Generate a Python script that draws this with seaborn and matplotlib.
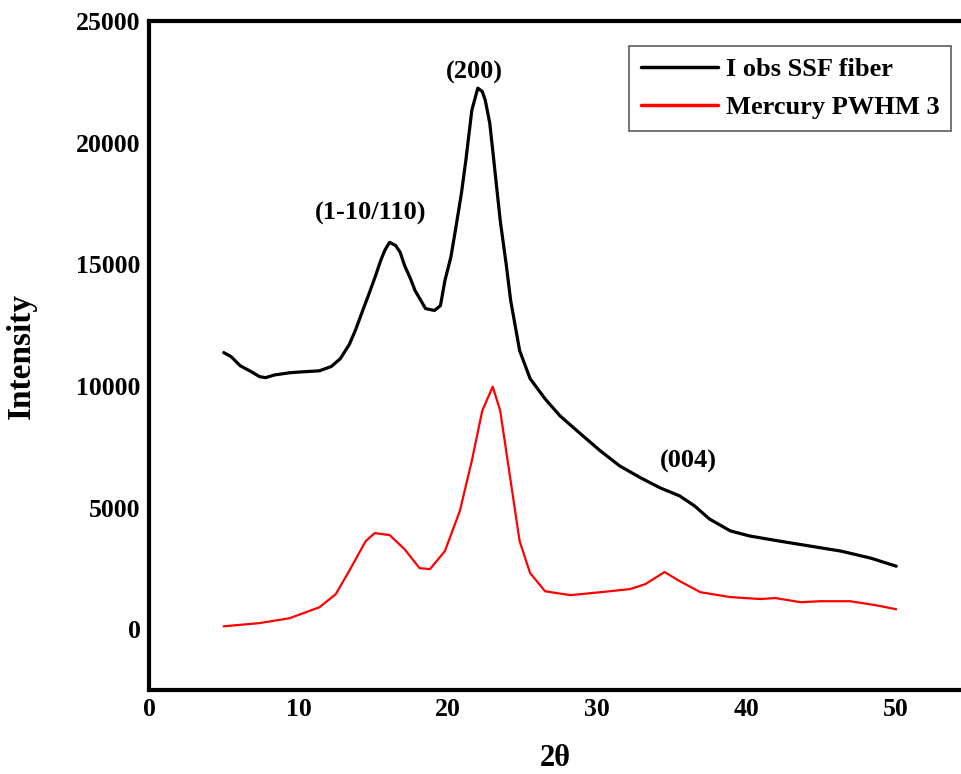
import pandas as pd
import matplotlib
matplotlib.use('Agg')
import matplotlib.pyplot as plt
import seaborn as sns

# values
obs_x = [5.0, 5.5, 6.1, 6.8, 7.4, 7.8, 8.4, 9.4, 10.3, 11.4, 12.2, 12.8, 13.4, 13.8, 14.3,
         14.8, 15.2, 15.5, 15.8, 16.1, 16.5, 16.8, 17.1, 17.5, 17.8, 18.2, 18.5, 19.1, 19.5,
         19.8, 20.2, 20.5, 20.9, 21.2, 21.6, 22.0, 22.3, 22.5, 22.8, 23.0, 23.5, 23.9, 24.2,
         24.8, 25.5, 26.5, 27.5, 28.8, 30.2, 31.5, 32.9, 34.2, 35.5, 36.5, 37.5, 38.9, 40.2,
         42.2, 44.2, 46.3, 48.3, 50.0]
obs_y = [11370, 11200, 10830, 10600, 10380, 10340, 10450, 10540, 10580, 10620, 10800, 11120,
         11700, 12270, 13100, 13920, 14600, 15150, 15600, 15900, 15770, 15500, 14950, 14400,
         13920, 13500, 13180, 13100, 13300, 14330, 15300, 16390, 17900, 19270, 21330, 22240,
         22100, 21740, 20800, 19680, 16800, 15000, 13510, 11450, 10300, 9470, 8770, 8070,
         7330, 6710, 6220, 5810, 5480, 5070, 4530, 4040, 3830, 3620, 3420, 3210, 2920, 2590]

fit_x = [5.0, 7.4, 9.4, 11.4, 12.5, 13.5, 14.5, 15.1, 16.1, 17.1, 18.1, 18.8, 19.8, 20.8,
         21.6, 22.3, 23.0, 23.5, 24.2, 24.8, 25.5, 26.5, 28.2, 30.2, 32.2, 33.2, 34.5, 35.5,
         36.9, 38.9, 40.9, 41.9, 43.6, 44.9, 46.9, 48.6, 50.0]
fit_y = [120, 250, 450, 900, 1440, 2510, 3620, 3950, 3870, 3290, 2510, 2470, 3210, 4860,
         6920, 8980, 9970, 8980, 6090, 3620, 2310, 1560, 1400, 1520, 1650, 1850, 2350, 1980,
         1520, 1320, 1240, 1280, 1110, 1150, 1150, 990, 820]

series_names = ['I obs SSF fiber', 'Mercury PWHM 3']
series_colors = ['black', 'red']

peak_labels = ['(1-10/110)', '(200)', '(004)']
peak_x = [14.8, 21.8, 36.1]
peak_y = [17100, 22900, 6900]

df = pd.concat([
    pd.DataFrame({'2θ': obs_x, 'Intensity': obs_y, 'series': series_names[0]}),
    pd.DataFrame({'2θ': fit_x, 'Intensity': fit_y, 'series': series_names[1]}),
])

sns.set_style('white')
plt.rcParams['font.family'] = ['Liberation Serif', 'DejaVu Serif']
plt.rcParams['font.weight'] = 'bold'
plt.rcParams['text.color'] = 'black'
plt.rcParams['xtick.color'] = 'black'
plt.rcParams['ytick.color'] = 'black'
plt.rcParams['axes.labelcolor'] = 'black'

fig = plt.figure(figsize=(9.62, 7.74), dpi=100)
ax = fig.add_axes([0.1549, 0.1085, 0.8451, 0.8644])

sns.lineplot(data=df, x='2θ', y='Intensity', hue='series', palette=series_colors,
             sort=False, ax=ax)
ax.lines[0].set_linewidth(2.3)
ax.lines[1].set_linewidth(1.6)

ax.set_xlim(0, 54.4)
ax.set_ylim(-2500, 25000)
ax.set_xticks([0, 10, 20, 30, 40, 50])
ax.set_yticks([0, 5000, 10000, 15000, 20000, 25000])
ax.tick_params(length=0, labelsize=18.5, pad=6)
for lab in ax.get_xticklabels() + ax.get_yticklabels():
    lab.set_fontweight('bold')

ax.spines['right'].set_visible(False)
for s in ['left', 'bottom', 'top']:
    ax.spines[s].set_linewidth(3)
    ax.spines[s].set_color('black')

ax.set_xlabel('2θ', fontsize=22, fontweight='bold', labelpad=16)
ax.set_ylabel('Intensity', fontsize=24, fontweight='bold', labelpad=28)

for lab, x, y in zip(peak_labels, peak_x, peak_y):
    ax.text(x, y, lab, ha='center', va='center', fontsize=19, fontweight='bold')

leg = ax.legend(loc='upper right', bbox_to_anchor=(0.9865, 0.9626), borderaxespad=0,
                handlelength=2.9, frameon=True, fancybox=False,
                prop={'weight': 'bold', 'size': 19}, borderpad=0.45, labelspacing=0.55,
                handletextpad=0.3)
leg.get_frame().set_edgecolor('#333333')
leg.get_frame().set_linewidth(1.2)
for line in leg.get_lines():
    line.set_linewidth(2.5)

fig.savefig('out.png', dpi=100)
